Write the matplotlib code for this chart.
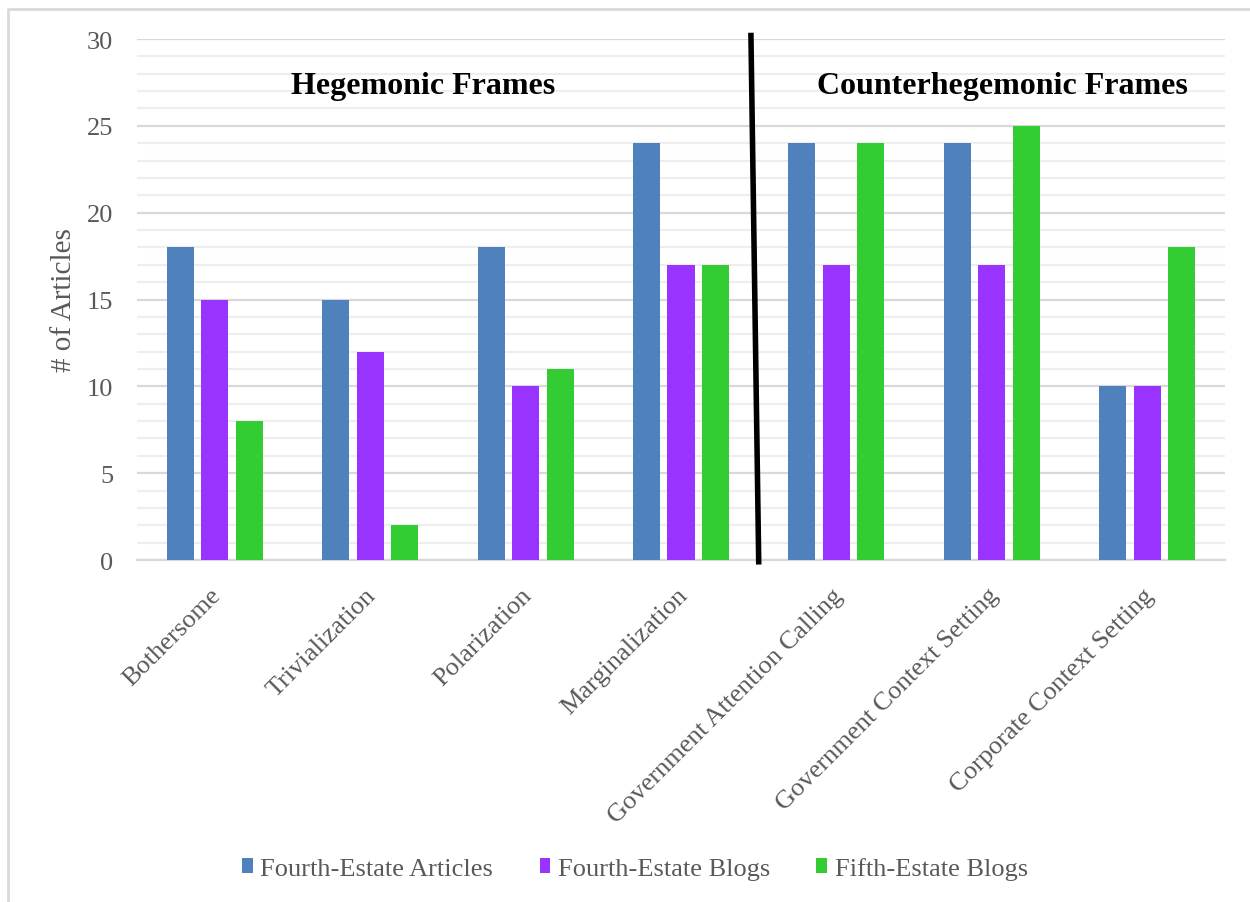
import numpy as np
import matplotlib
matplotlib.use("Agg")
import matplotlib.pyplot as plt
from matplotlib.lines import Line2D
from matplotlib.transforms import ScaledTranslation

plt.rcParams['font.family'] = ['Liberation Serif', 'DejaVu Serif']

# data
categories = ['Bothersome', 'Trivialization', 'Polarization', 'Marginalization',
              'Government Attention Calling', 'Government Context Setting',
              'Corporate Context Setting']
series_names = ['Fourth-Estate Articles', 'Fourth-Estate Blogs', 'Fifth-Estate Blogs']
fourth_articles = [18, 15, 18, 24, 24, 24, 10]
fourth_blogs = [15, 12, 10, 17, 17, 17, 10]
fifth_blogs = [8, 2, 11, 17, 24, 25, 18]
colors = ['#4f81bd', '#9933ff', '#33cc33']
text_grey = '#595959'

fig = plt.figure(figsize=(12.5, 9.03), dpi=100)
ax = fig.add_axes([0.1096, 0.3787, 0.8704, 0.577])

x = np.arange(len(categories))
width = 0.174
offsets = [-0.222, 0, 0.222]
for vals, off, col, name in zip([fourth_articles, fourth_blogs, fifth_blogs],
                                offsets, colors, series_names):
    ax.bar(x + off, vals, width, color=col, label=name, zorder=3)

ax.set_xlim(-0.5, len(categories) - 0.5)
ax.set_ylim(0, 30)
ax.set_yticks(np.arange(0, 31, 5))
ax.set_yticks(np.arange(0, 31, 1), minor=True)
ax.grid(axis='y', which='major', color='#d9d9d9', linewidth=1.6, zorder=0)
ax.grid(axis='y', which='minor', color='#eeeeee', linewidth=1.6, zorder=0)
for s in ['top', 'right', 'left']:
    ax.spines[s].set_visible(False)
ax.spines['bottom'].set_color('#d9d9d9')
ax.spines['bottom'].set_linewidth(1.6)
ax.tick_params(axis='both', which='both', length=0, colors=text_grey, labelsize=19)
ax.tick_params(axis='y', pad=17)
ax.set_xticks(x)
ax.set_xticklabels(categories, rotation=45, ha='right', rotation_mode='anchor')
for lbl in ax.get_xticklabels():
    lbl.set_transform(lbl.get_transform() + ScaledTranslation(-0.05, -0.19, fig.dpi_scale_trans))
ax.set_ylabel('# of Articles', fontsize=21, color=text_grey, labelpad=7)

# divider between frame groups
ax.plot([3.45, 3.5], [30.2, -0.1], color='black', linewidth=4, clip_on=False, zorder=5)
ax.text(1.34, 27.35, 'Hegemonic Frames', fontsize=23, fontweight='bold',
        ha='center', va='center', zorder=6)
ax.text(5.07, 27.35, 'Counterhegemonic Frames', fontsize=23, fontweight='bold',
        ha='center', va='center', zorder=6)

leg = fig.legend(loc='center', bbox_to_anchor=(0.508, 0.037), ncol=3, frameon=False,
                 fontsize=19, handlelength=0.4, handleheight=0.5, handletextpad=0.3,
                 columnspacing=1.75)
for t in leg.get_texts():
    t.set_color(text_grey)

# outer frame (left and top edges visible)
fig.add_artist(Line2D([0.0064, 0.0064, 1.0], [0.0, 0.989, 0.989],
                      transform=fig.transFigure, color='#d9d9d9', linewidth=2))

fig.savefig('out.png', dpi=100)
